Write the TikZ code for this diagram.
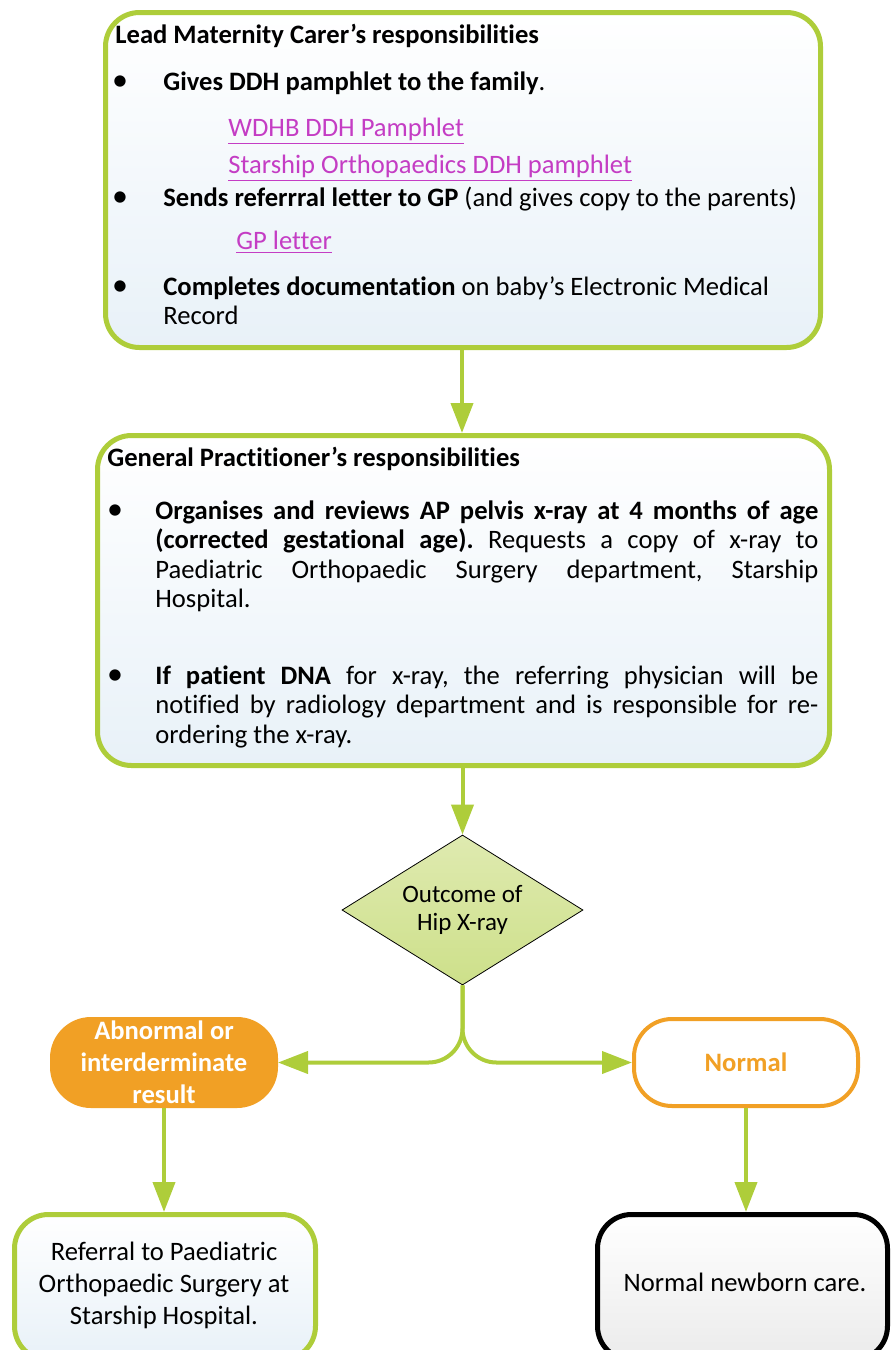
\documentclass[tikz,border=0pt]{standalone}
\usepackage{fontspec}
\setmainfont{Carlito}[Ligatures=NoCommon]
\usetikzlibrary{shapes.geometric,arrows.meta,calc}
\definecolor{lgreen}{HTML}{AECD3A}
\definecolor{boxblue}{HTML}{E8F1F8}
\definecolor{lorange}{HTML}{F1A025}
\definecolor{linkc}{HTML}{C43DC4}
\definecolor{dtop}{HTML}{DFEAB0}
\definecolor{dbot}{HTML}{CDE08A}
\definecolor{grayb}{HTML}{EBEBEB}
\newcommand{\lnk}[1]{\textcolor{linkc}{\underline{#1}}}
\frenchspacing
\begin{document}
\begin{tikzpicture}[x=0.5pt,y=-0.5pt,
  box/.style={draw=lgreen, line width=2.5pt, rounded corners=17pt, top color=white, bottom color=boxblue, inner sep=0pt},
  arr/.style={draw=lgreen, line width=2pt, -{Triangle[length=15pt,width=11pt]}},
  txt/.style={inner sep=0pt, font=\fontsize{13.3}{14.75}\selectfont, text=black},
  bul/.style={inner sep=0pt, font=\fontsize{16}{16}\selectfont, anchor=base},
]
\useasboundingbox (0,0) rectangle (892,1350);

% boxes
\node[box, minimum width=357.5pt, minimum height=167.5pt] (b1) at (463,180) {};
\node[box, minimum width=366pt, minimum height=165pt] (b2) at (463.5,600.5) {};
\node[diamond, draw=black, line width=0.4pt, top color=dtop, bottom color=dbot, aspect=1.6, inner sep=0pt,
      minimum width=120.5pt, minimum height=75pt, align=center, font=\fontsize{12.5}{14}\selectfont] (d) at (462.5,910) {Outcome of\\Hip X-ray};
\node[fill=lorange, draw=lorange, line width=1pt, rounded corners=20pt, minimum width=113pt, minimum height=44.5pt, inner sep=0pt] (abn) at (164,1062.5) {};
\node[draw=lorange, fill=white, line width=2pt, rounded corners=19pt, minimum width=112pt, minimum height=43.5pt, inner sep=0pt,
      font=\fontsize{13.3}{16}\selectfont\bfseries, text=lorange] (norm) at (746,1062.5) {Normal};
\node[box, minimum width=150.5pt, minimum height=72.75pt] (ref) at (165,1287.25) {};
\node[draw=black, line width=2.5pt, rounded corners=17pt, top color=white, bottom color=grayb, inner sep=0pt,
      minimum width=145pt, minimum height=72.75pt] (nb) at (742.5,1287.25) {};

% box 1 text
\node[txt, anchor=base west] (t1) at (115,43) {\textbf{Lead Maternity Carer’s responsibilities}};
\node[bul] (u1) at (120,90) {•};
\node[txt, anchor=base west] (t1a) at (163,90) {\textbf{Gives DDH pamphlet to the family}.};
\node[txt, anchor=base west] (l1) at (228,136) {\lnk{WDHB DDH Pamphlet}};
\node[txt, anchor=base west] (l2) at (228,173) {\lnk{Starship Orthopaedics DDH pamphlet}};
\node[bul] (u2) at (120,206) {•};
\node[txt, anchor=base west] (t1b) at (163,206) {\textbf{Sends referrral letter to GP} (and gives copy to the parents)};
\node[txt, anchor=base west] (l3) at (236,249) {\lnk{GP letter}};
\node[bul] (u3) at (120,295) {•};
\node[txt, anchor=base west] (t1c) at (163,295) {\textbf{Completes documentation} on baby’s Electronic Medical};
\node[txt, anchor=base west] (t1d) at (163,324) {Record};

% box 2 text
\node[txt, anchor=base west] (t2) at (107,466) {\textbf{General Practitioner’s responsibilities}};
\node[bul] (u4) at (115,519) {•};
\node[txt, anchor=base west] (p1a) at (155,519) {\makebox[331.5pt][s]{\textbf{Organises and reviews AP pelvis x-ray at 4 months of age}}};
\node[txt, anchor=base west] (p1b) at (155,548.5) {\makebox[331.5pt][s]{\textbf{(corrected gestational age).} Requests a copy of x-ray to}};
\node[txt, anchor=base west] (p1c) at (155,578) {\makebox[331.5pt][s]{Paediatric Orthopaedic Surgery department, Starship}};
\node[txt, anchor=base west] (p1d) at (155,607.5) {Hospital.};
\node[bul] (u5) at (115,684) {•};
\node[txt, anchor=base west] (p2a) at (155,684) {\makebox[331.5pt][s]{\textbf{If patient DNA} for x-ray, the referring physician will be}};
\node[txt, anchor=base west] (p2b) at (155,713.5) {\makebox[331.5pt][s]{notified by radiology department and is responsible for re-}};
\node[txt, anchor=base west] (p2c) at (155,743) {ordering the x-ray.};

% orange / bottom texts
\node[inner sep=0pt, align=center, font=\fontsize{13.3}{16}\selectfont\bfseries, text=white] (abnt) at (164,1062) {Abnormal or\\interderminate\\result};
\node[inner sep=0pt, align=center, font=\fontsize{13.3}{16}\selectfont] (reft) at (164,1285) {Referral to Paediatric\\Orthopaedic Surgery at\\Starship Hospital.};
\node[inner sep=0pt, align=center, font=\fontsize{13.3}{16}\selectfont] (nbt) at (745,1282) {Normal newborn care.};

% connectors
\draw[arr] (b1.south -| 462,0) -- (b2.north -| 462,0);
\draw[arr] (d.north |- b2.south) -- (d.north);
\draw[arr, rounded corners=17pt] (d.south) |- (abn.east);
\draw[arr, rounded corners=17pt] (d.south) |- (norm.west);
\draw[arr] (abn.south) -- (abn.south |- ref.north);
\draw[arr] (norm.south) -- (norm.south |- nb.north);
\end{tikzpicture}
\end{document}
